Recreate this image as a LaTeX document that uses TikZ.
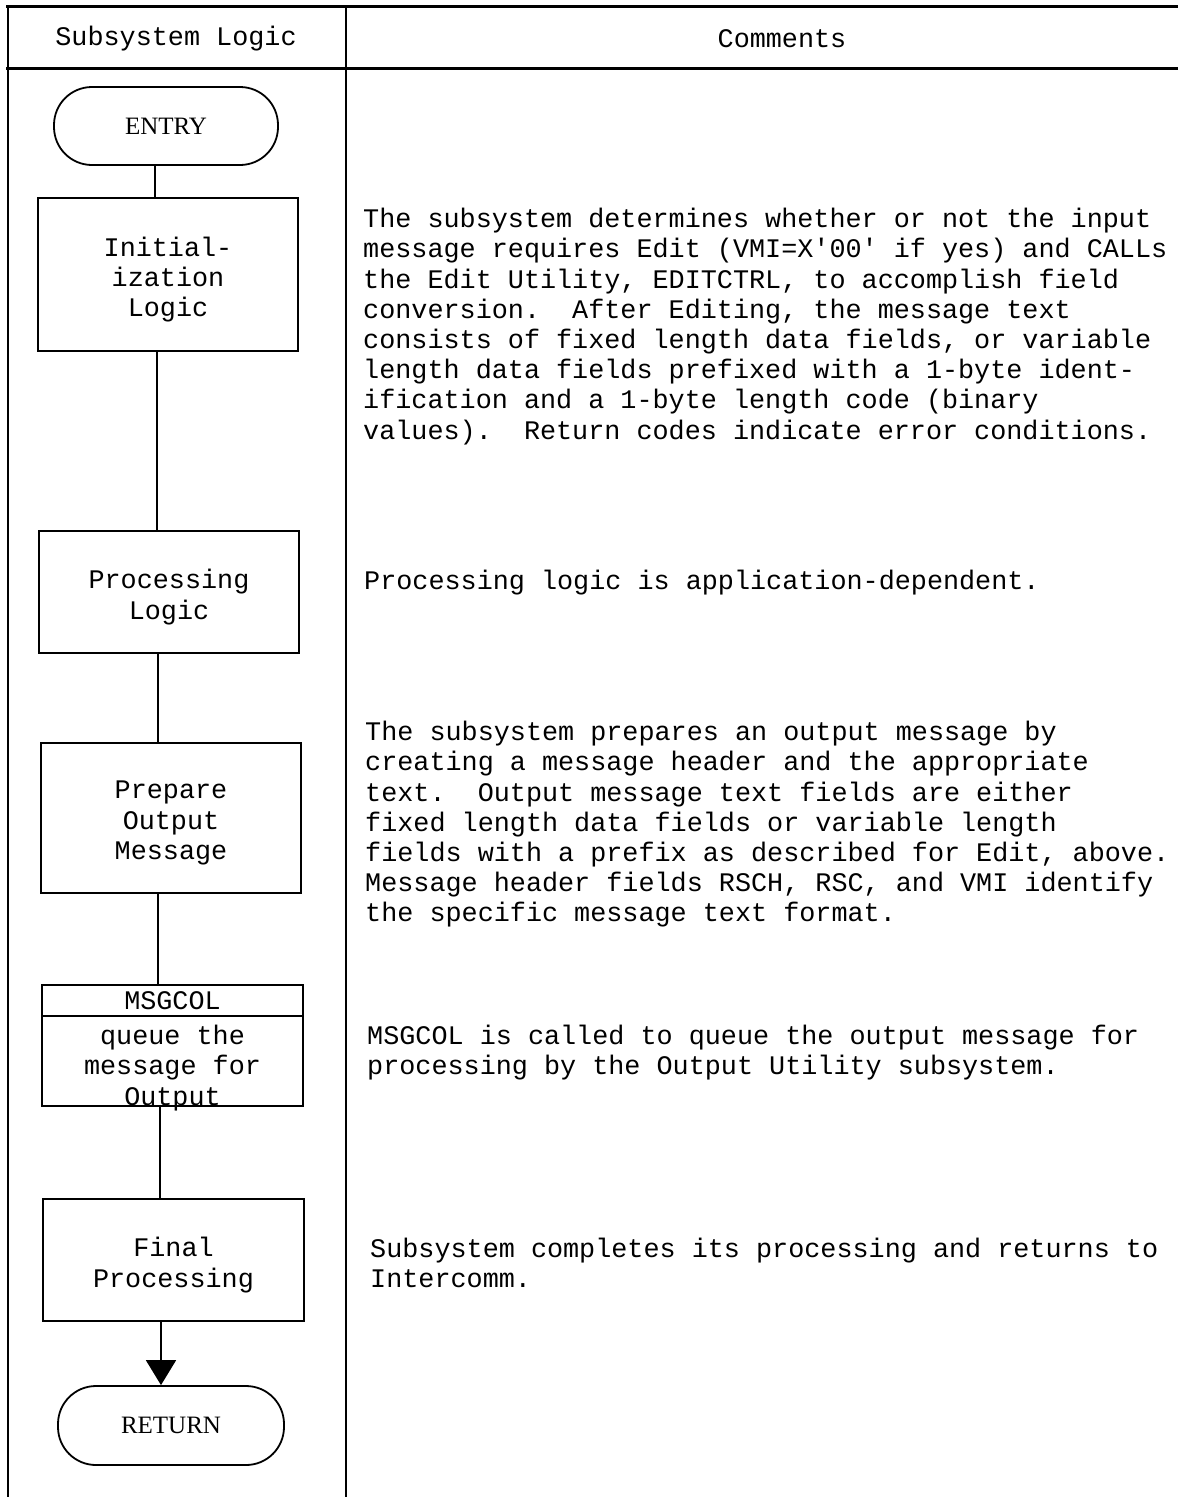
\documentclass[tikz,border=0pt]{standalone}
\usepackage{fontspec}
\setmonofont{Liberation Mono}
\newfontfamily\termfont{Liberation Serif}
\usetikzlibrary{arrows.meta}
\begin{document}
\begin{tikzpicture}[x=1pt,y=-1pt,
  tt/.style={font=\ttfamily\fontsize{26.8}{30.2}\selectfont},
  box/.style={draw, line width=1.8pt, inner sep=0pt},
  boxtext/.style={tt, align=center, inner sep=0pt, yshift=-5pt},
  term/.style={draw, line width=1.8pt, rounded corners=38pt, inner sep=0pt,
               font=\termfont\fontsize{25}{28}\selectfont},
  comment/.style={tt, align=left, anchor=north west, inner sep=0pt},
  head/.style={tt, inner sep=0pt},
  grid/.style={line width=1.8pt},
  rule/.style={line width=3pt},
  conn/.style={line width=1.8pt}]
\useasboundingbox (0,0) rectangle (1178,1497);

% table frame
\draw[rule] (6,6) -- (1178,6);
\draw[rule] (6,68) -- (1178,68);
\draw[grid] (8,6) -- (8,1497);
\draw[grid] (346,6) -- (346,1497);
\node[head] (hleft) at (176,39) {Subsystem Logic};
\node[head] (hright) at (782,39) {Comments};

% flowchart
\node[term, minimum width=224pt, minimum height=78pt] (entry) at (166,126) {ENTRY};
\node[box, minimum width=260pt, minimum height=153pt] (init) at (168,274.5) {};
\node[boxtext] (initt) at (init) {Initial-\\ization\\Logic};
\node[box, minimum width=260pt, minimum height=122pt] (proc) at (169,592) {};
\node[boxtext] (proct) at (proc) {Processing\\Logic};
\node[box, minimum width=260pt, minimum height=150pt] (prep) at (171,818) {};
\node[boxtext] (prept) at (prep) {Prepare\\Output\\Message};
\node[box, minimum width=261pt, minimum height=121pt] (msg) at (172.5,1045.5) {};
\coordinate (msgdivl) at (42,1016);
\coordinate (msgdivr) at (303,1016);
\draw[line width=1.6pt] (msgdivl) -- (msgdivr);
\node[head] (msgtitle) at (172.5,1001) {MSGCOL};
\node[tt, align=center, inner sep=0pt, anchor=north] (msgtext) at (172.5,1025) {queue the\\message for\\Output};
\node[box, minimum width=261pt, minimum height=122pt] (final) at (173.5,1260) {};
\node[boxtext] (finalt) at (final) {Final\\Processing};
\node[term, minimum width=226pt, minimum height=79pt] (ret) at (171,1425.5) {RETURN};

\draw[conn] (entry.south -| 155,0) -- (init.north -| 155,0);
\draw[conn] (init.south -| 157,0) -- (proc.north -| 157,0);
\draw[conn] (proc.south -| 158,0) -- (prep.north -| 158,0);
\draw[conn] (prep.south -| 158,0) -- (msg.north -| 158,0);
\draw[conn] (msg.south -| 160,0) -- (final.north -| 160,0);
\draw[conn, -{Triangle[length=25pt,width=30pt]}] (final.south -| 161,0) -- (ret.north -| 161,0);

% comments
\node[comment] (c1) at (363,208) {The subsystem determines whether or not the input\\
message requires Edit (VMI=X'00' if yes) and CALLs\\
the Edit Utility, EDITCTRL, to accomplish field\\
conversion.~~After Editing, the message text\\
consists of fixed length data fields, or variable\\
length data fields prefixed with a 1-byte ident-\\
ification and a 1-byte length code (binary\\
values).~~Return codes indicate error conditions.};
\node[comment] (c2) at (364,570) {Processing logic is application-dependent.};
\node[comment] (c3) at (365,721) {The subsystem prepares an output message by\\
creating a message header and the appropriate\\
text.~~Output message text fields are either\\
fixed length data fields or variable length\\
fields with a prefix as described for Edit, above.\\
Message header fields RSCH, RSC, and VMI identify\\
the specific message text format.};
\node[comment] (c4) at (367,1025) {MSGCOL is called to queue the output message for\\
processing by the Output Utility subsystem.};
\node[comment] (c5) at (370,1238) {Subsystem completes its processing and returns to\\
Intercomm.};
\end{tikzpicture}
\end{document}
